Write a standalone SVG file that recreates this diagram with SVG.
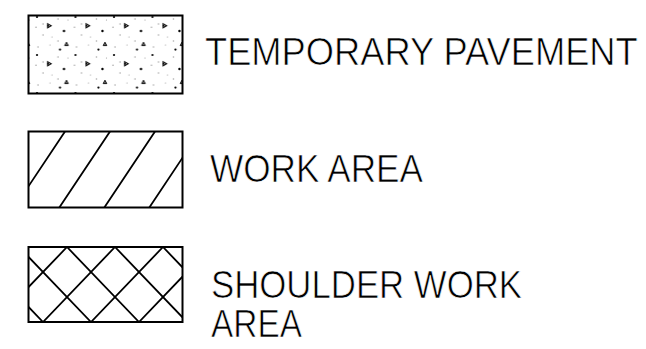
<svg xmlns="http://www.w3.org/2000/svg" width="646" height="349" viewBox="0 0 646 349">
<style>
.box{fill:none;stroke:#000;stroke-width:2}
.hatch{stroke:#000;stroke-width:1.8;fill:none}
.lbl{font-family:"Liberation Sans",Arial,sans-serif;font-size:38px;fill:#000;stroke:#fff;stroke-width:0.7px}
</style>
<defs>
<pattern id="stip" x="32" y="13" width="38.5" height="38" patternUnits="userSpaceOnUse">
<circle cx="5" cy="4" r="1.1" fill="#000"/>
<circle cx="32" cy="18" r="1.2" fill="#000"/>
<circle cx="28" cy="36.6" r="1.1" fill="#000"/>
<path d="M15.6,10.6 L19.2,12.7 L15.6,14.8 Z" fill="none" stroke="#000" stroke-width="1"/>
<circle cx="16.2" cy="12.7" r="0.9" fill="#000"/>
<path d="M32.7,32.6 L34.5,29.2 L36.3,32.6 Z" fill="#777" stroke="#000" stroke-width="0.9"/>
<g fill="#999">
<circle cx="4" cy="14.3" r="0.7"/>
<circle cx="26" cy="6" r="0.7"/>
<circle cx="11" cy="22" r="0.7"/>
<circle cx="26" cy="28" r="0.7"/>
<circle cx="6" cy="34" r="0.7"/>
<circle cx="11" cy="11" r="0.7"/>
<circle cx="18" cy="32" r="0.6"/>
<circle cx="36" cy="7" r="0.6"/>
<circle cx="20" cy="24" r="0.6"/>
</g>
</pattern>
<clipPath id="c2"><rect x="28.5" y="131.5" width="154" height="76"/></clipPath>
<clipPath id="c3"><rect x="28.5" y="247" width="154" height="75"/></clipPath>
</defs>

<g id="temporary-pavement">
<rect x="28.5" y="15.5" width="154" height="78" fill="url(#stip)"/>
<rect class="box" x="28.5" y="15.5" width="154" height="78"/>
<text class="lbl" x="0" y="0" transform="translate(205,65) scale(0.955,1)">TEMPORARY PAVEMENT</text>
</g>

<g id="work-area">
<g clip-path="url(#c2)" class="hatch">
<path d="M65,131.5 L14,208 M110,131.5 L59,208 M155,131.5 L104,208 M200,131.5 L149,208"/>
</g>
<rect class="box" x="28.5" y="131.5" width="154" height="76"/>
<text class="lbl" x="210" y="182" textLength="213" lengthAdjust="spacingAndGlyphs">WORK AREA</text>
</g>

<g id="shoulder-work-area">
<g clip-path="url(#c3)" class="hatch">
<path d="M19,247 L91,322 M67,247 L139,322 M115,247 L187,322 M163,247 L235,322 M-29,247 L43,322"/>
<path d="M67,247 L-5,322 M115,247 L43,322 M163,247 L91,322 M211,247 L139,322 M259,247 L187,322"/>
</g>
<rect class="box" x="28.5" y="247" width="154" height="75"/>
<text class="lbl" x="211" y="297.5" textLength="311" lengthAdjust="spacingAndGlyphs">SHOULDER WORK</text>
<text class="lbl" x="211" y="336.5" textLength="91" lengthAdjust="spacingAndGlyphs">AREA</text>
</g>
</svg>
